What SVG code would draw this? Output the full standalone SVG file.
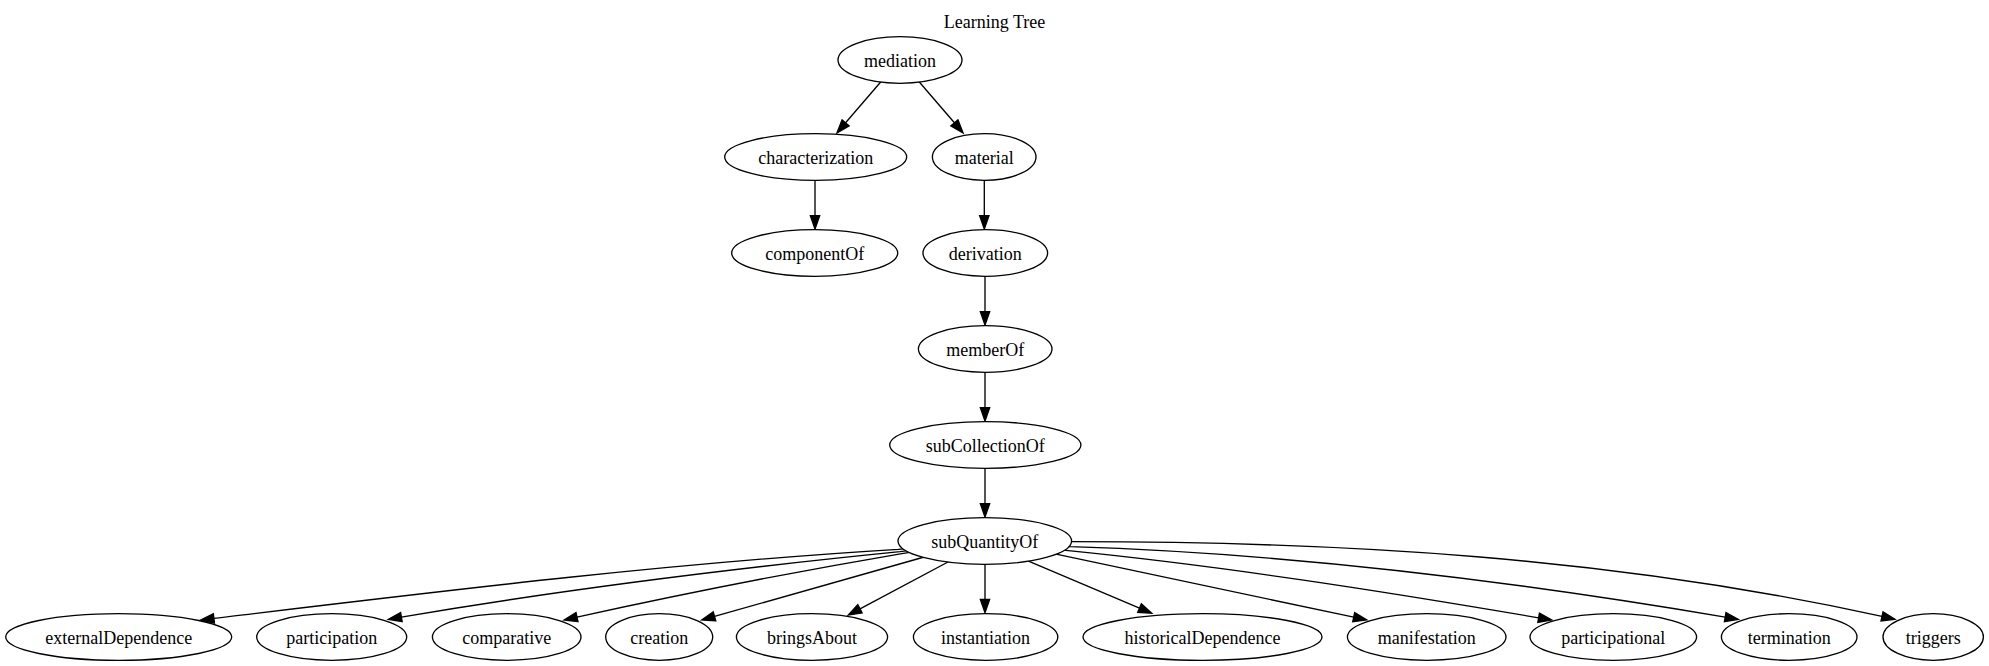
<svg xmlns="http://www.w3.org/2000/svg" width="1989" height="666" viewBox="0 0 1989 666">
  <style>
    .node ellipse { fill: #ffffff; stroke: #000000; stroke-width: 1.33; }
    .node text, .title { font-family: "Liberation Serif", "Times New Roman", serif; font-size: 18px; fill: #000000; text-anchor: middle; }
    .edge { fill: none; stroke: #000000; stroke-width: 1.33; marker-end: url(#arrow); }
  </style>
  <defs>
    <marker id="arrow" markerUnits="userSpaceOnUse" markerWidth="16" markerHeight="12" refX="0" refY="5" orient="auto" overflow="visible">
      <path d="M0,0.33 L13.3,5 L0,9.67 z" fill="#000000" stroke="#000000" stroke-width="1.33" stroke-linejoin="miter"/>
    </marker>
  </defs>
  <rect x="0" y="0" width="1989" height="666" fill="#ffffff"/>

  <text class="title" x="994.5" y="27.5">Learning Tree</text>

  <!-- connectors (drawn first, nodes cover their starts) -->
  <g id="edges">
    <path class="edge" d="M885,77 L845.6,122.8"/>
    <path class="edge" d="M915,77 L954.4,122.8"/>
    <path class="edge" d="M815,175 L815,215.7"/>
    <path class="edge" d="M984.3,175 L984.3,215.7"/>
    <path class="edge" d="M985,271 L985,311.7"/>
    <path class="edge" d="M985,367 L985,407.7"/>
    <path class="edge" d="M985,463 L985,503.7"/>

    <path class="edge" d="M908.3,548.3 L898.3,549.3 C670.2,563 442,591 213.9,618.4"/>
    <path class="edge" d="M910,550.4 L900,551.7 C733.8,568.3 567.6,588.8 401.4,617.1"/>
    <path class="edge" d="M913.2,551.8 L903.3,553.3 C794.5,571.8 685.8,593.2 577,617.1"/>
    <path class="edge" d="M931.3,555 L714.5,616.4"/>
    <path class="edge" d="M955.5,558 L860,608.8"/>
    <path class="edge" d="M985,560 L985,599.4"/>
    <path class="edge" d="M1020.8,557.8 L1139.5,608.1"/>
    <path class="edge" d="M1050.2,552.9 L1353.7,617.2"/>
    <path class="edge" d="M1058.4,549.5 L1068.3,550.7 C1225.1,566.4 1381.8,591.1 1538.6,617.8"/>
    <path class="edge" d="M1060,546 L1070,546.7 C1288.4,553.3 1506.8,580 1725.2,617.1"/>
    <path class="edge" d="M1061.7,541.6 L1071.7,541.7 C1341.8,541.7 1611.9,557 1882,616.4"/>
  </g>

  <g id="mediation" class="node"><ellipse cx="900" cy="60" rx="62" ry="23.3"/><text x="900" y="67">mediation</text></g>
  <g id="characterization" class="node"><ellipse cx="815.7" cy="157" rx="91" ry="23.3"/><text x="815.7" y="164">characterization</text></g>
  <g id="material" class="node"><ellipse cx="984.2" cy="157" rx="51.8" ry="23.3"/><text x="984.2" y="164">material</text></g>
  <g id="componentOf" class="node"><ellipse cx="814.7" cy="253" rx="83" ry="23.3"/><text x="814.7" y="260">componentOf</text></g>
  <g id="derivation" class="node"><ellipse cx="985.3" cy="253" rx="62.3" ry="23.3"/><text x="985.3" y="260">derivation</text></g>
  <g id="memberOf" class="node"><ellipse cx="985.2" cy="349" rx="66.8" ry="23.3"/><text x="985.2" y="356">memberOf</text></g>
  <g id="subCollectionOf" class="node"><ellipse cx="985.3" cy="445" rx="95.6" ry="23.3"/><text x="985.3" y="452">subCollectionOf</text></g>
  <g id="subQuantityOf" class="node"><ellipse cx="984.8" cy="541" rx="86.8" ry="23.3"/><text x="984.8" y="548">subQuantityOf</text></g>

  <g id="externalDependence" class="node"><ellipse cx="118.7" cy="637" rx="113" ry="23.3"/><text x="118.7" y="644">externalDependence</text></g>
  <g id="participation" class="node"><ellipse cx="331.7" cy="637" rx="75" ry="23.3"/><text x="331.7" y="644">participation</text></g>
  <g id="comparative" class="node"><ellipse cx="506.7" cy="637" rx="74.3" ry="23.3"/><text x="506.7" y="644">comparative</text></g>
  <g id="creation" class="node"><ellipse cx="659.2" cy="637" rx="53.5" ry="23.3"/><text x="659.2" y="644">creation</text></g>
  <g id="bringsAbout" class="node"><ellipse cx="812" cy="637" rx="75.6" ry="23.3"/><text x="812" y="644">bringsAbout</text></g>
  <g id="instantiation" class="node"><ellipse cx="985.6" cy="637" rx="72.2" ry="23.3"/><text x="985.6" y="644">instantiation</text></g>
  <g id="historicalDependence" class="node"><ellipse cx="1202.5" cy="637" rx="119.5" ry="23.3"/><text x="1202.5" y="644">historicalDependence</text></g>
  <g id="manifestation" class="node"><ellipse cx="1426.7" cy="637" rx="79.3" ry="23.3"/><text x="1426.7" y="644">manifestation</text></g>
  <g id="participational" class="node"><ellipse cx="1613.3" cy="637" rx="83.3" ry="23.3"/><text x="1613.3" y="644">participational</text></g>
  <g id="termination" class="node"><ellipse cx="1789.2" cy="637" rx="67.8" ry="23.3"/><text x="1789.2" y="644">termination</text></g>
  <g id="triggers" class="node"><ellipse cx="1933.2" cy="637" rx="50.2" ry="23.3"/><text x="1933.2" y="644">triggers</text></g>
</svg>
